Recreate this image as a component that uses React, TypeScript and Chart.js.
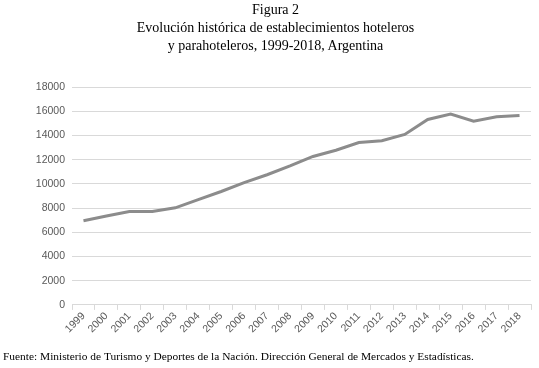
import React, { useEffect, useRef } from "react";
import { Chart, registerables } from "chart.js";

Chart.register(...registerables);

const years = ["1999","2000","2001","2002","2003","2004","2005","2006","2007","2008","2009","2010","2011","2012","2013","2014","2015","2016","2017","2018"];
const establishments = [6950, 7350, 7720, 7720, 8020, 8700, 9370, 10100, 10750, 11480, 12260, 12780, 13410, 13560, 14080, 15320, 15760, 15180, 15540, 15650];
const titleLines = ["Figura 2", "Evolución histórica de establecimientos hoteleros", "y parahoteleros, 1999-2018, Argentina"];
const sourceText = "Fuente: Ministerio de Turismo y Deportes de la Nación. Dirección General de Mercados y Estadísticas.";

export default function App() {
  const ref = useRef<HTMLCanvasElement>(null);
  useEffect(() => {
    document.body.style.margin = "0";
    const chart = new Chart(ref.current!, {
      type: "line",
      data: {
        labels: years,
        datasets: [{
          data: establishments,
          borderColor: "#8c8c8c",
          borderWidth: 3,
          pointRadius: 0,
          tension: 0,
          fill: false,
        }],
      },
      options: {
        animation: false,
        responsive: false,
        layout: { padding: { left: 3, right: 8, top: 87, bottom: 4 } },
        plugins: {
          legend: { display: false },
          tooltip: { enabled: false },
          title: { display: false },
          subtitle: {
            display: true,
            text: sourceText,
            position: "bottom",
            align: "start",
            color: "#000",
            font: { family: "'Liberation Serif', serif", size: 11.4, weight: "normal" },
            padding: { top: 15, bottom: 0 },
          },
        },
        scales: {
          x: {
            offset: true,
            grid: { offset: true, drawOnChartArea: false, drawTicks: true, tickLength: 5, color: "#d9d9d9" },
            border: { display: true, color: "#d9d9d9" },
            ticks: {
              autoSkip: false,
              minRotation: 45,
              maxRotation: 45,
              padding: 0,
              color: "#595959",
              font: { family: "'Liberation Sans', sans-serif", size: 10.5 },
            },
          },
          y: {
            min: 0,
            max: 18000,
            afterFit: (scale: any) => { scale.width = 69; },
            ticks: {
              stepSize: 2000,
              padding: 7,
              color: "#595959",
              font: { family: "'Liberation Sans', sans-serif", size: 10.5 },
              callback: (v: any) => String(v),
            },
            grid: { color: "#d9d9d9", drawTicks: false },
            border: { display: false },
          },
        },
      },
    });
    return () => chart.destroy();
  }, []);
  return (
    <div style={{ position: "relative", width: 539, height: 368 }}>
      <canvas ref={ref} width={539} height={368} style={{ display: "block" }} />
      <div
        style={{
          position: "absolute",
          top: 1,
          left: 0,
          width: 551,
          textAlign: "center",
          fontFamily: "'Liberation Serif', serif",
          fontSize: 14,
          lineHeight: "18px",
          color: "#000",
        }}
      >
        {titleLines.map((t) => (
          <div key={t}>{t}</div>
        ))}
      </div>
    </div>
  );
}
